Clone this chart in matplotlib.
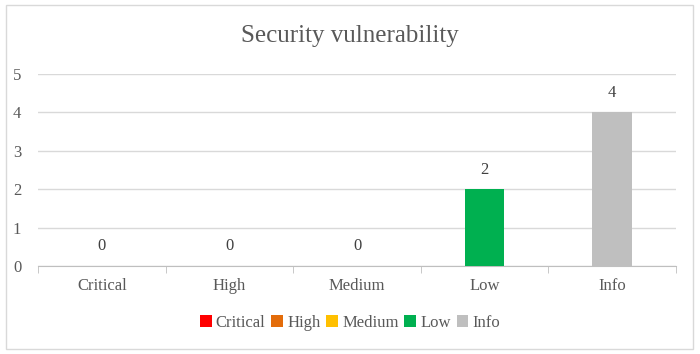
import numpy as np
import matplotlib.pyplot as plt
from matplotlib.patches import Rectangle, Patch

categories = ['Critical', 'High', 'Medium', 'Low', 'Info']
counts = [0, 0, 0, 2, 4]
colors = ['#ff0000', '#e36c0a', '#ffc000', '#00b050', '#bfbfbf']

plt.rcParams['font.family'] = ['Liberation Serif', 'DejaVu Serif']
text_col = '#595959'

fig = plt.figure(figsize=(7, 3.54), dpi=100)
ax = fig.add_axes([38 / 700, 1 - 266 / 354, 638 / 700, 192 / 354])

x = np.arange(len(categories))
bars = ax.bar(x, counts, width=0.31, color=colors, zorder=3)
for xi, v in zip(x, counts):
    ax.text(xi, v + 0.3, str(v), ha='center', va='bottom', fontsize=12, color='#404040')

ax.set_xlim(-0.5, len(categories) - 0.5)
ax.set_ylim(0, 5)
ax.set_yticks(range(6))
ax.yaxis.grid(True, color='#d9d9d9', linewidth=1, zorder=0)
ax.set_xticks(x)
ax.set_xticklabels(categories)
ax.set_xticks(np.arange(-0.5, len(categories)), minor=True)
ax.tick_params(axis='x', which='major', length=0, pad=9, labelsize=12, labelcolor=text_col)
ax.tick_params(axis='x', which='minor', length=5, color='#bfbfbf', direction='out')
ax.tick_params(axis='y', length=0, pad=12, labelsize=12, labelcolor=text_col)
for s in ['top', 'right', 'left']:
    ax.spines[s].set_visible(False)
ax.spines['bottom'].set_color('#bfbfbf')

fig.text(0.5, 1 - 36 / 354, 'Security vulnerability', ha='center', va='center',
         fontsize=18, color=text_col)

handles = [Patch(facecolor=c, edgecolor='none') for c in colors]
fig.legend(handles, categories, loc='center', bbox_to_anchor=(0.5, 1 - 323 / 354),
           ncol=5, frameon=False, fontsize=12, handlelength=0.7, handleheight=0.7,
           handletextpad=0.25, columnspacing=0.35, labelcolor=text_col)

fig.patches.append(Rectangle((6 / 700, 5 / 354), 687 / 700, 344 / 354, transform=fig.transFigure,
                             fill=False, edgecolor='#d9d9d9', linewidth=1))

fig.savefig('out.png', dpi=100)
